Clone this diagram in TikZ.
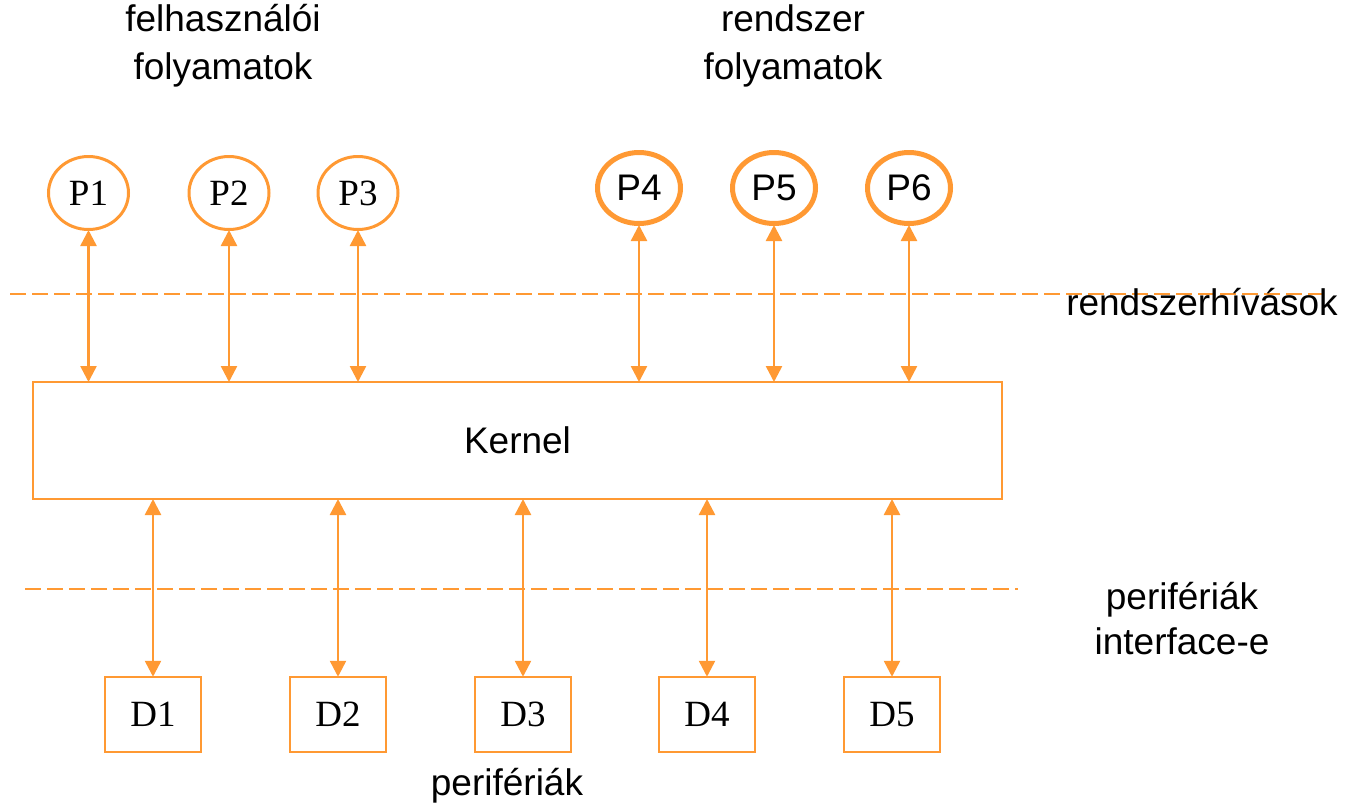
\documentclass[tikz,border=0pt]{standalone}
\usepackage{fontspec}
\setmainfont{Liberation Sans}
\newfontfamily\serifface{Liberation Serif}
\usetikzlibrary{arrows.meta,shapes.geometric}
\definecolor{accent}{RGB}{255,153,51}
\begin{document}
\begin{tikzpicture}[x=1pt,y=-1pt,
  every node/.style={font=\fontsize{37}{46}\selectfont, text=black},
  userproc/.style={ellipse, draw=accent, line width=3pt, minimum width=80pt, minimum height=73pt, inner sep=0pt, font=\serifface\fontsize{37}{46}\selectfont},
  sysproc/.style={ellipse, draw=accent, line width=5pt, minimum width=83pt, minimum height=71pt, inner sep=0pt},
  devbox/.style={rectangle, draw=accent, line width=2.5pt, minimum width=96pt, minimum height=75pt, inner sep=0pt, font=\serifface\fontsize{37}{46}\selectfont},
  kernelbox/.style={rectangle, draw=accent, line width=2pt, minimum width=969pt, minimum height=117pt, inner sep=0pt},
  boundary/.style={draw=accent, line width=2.5pt, dash pattern=on 16pt off 6pt},
  link/.style={draw=accent, line width=2.5pt, {Triangle[width=16pt,length=16pt]}-{Triangle[width=16pt,length=16pt]}, shorten <=-1pt, shorten >=-1pt},
  caption/.style={align=center, inner sep=0pt, font=\fontsize{37}{48}\selectfont}
]
\useasboundingbox (0,0) rectangle (1346,807);

% layer boundaries
\coordinate (callsL) at (10,294);
\coordinate (callsR) at (1325,294);
\coordinate (devL) at (25,589);
\coordinate (devR) at (1018,589);
\path[boundary] (callsL) -- (callsR);
\path[boundary] (devL) -- (devR);

% captions
\node[caption] (usercap) at (223,46) {felhasználói\\folyamatok};
\node[caption] (syscap) at (793,46) {rendszer\\folyamatok};
\node[caption] (callscap) at (1202,302) {rendszerhívások};
\node[caption, font=\fontsize{37}{45}\selectfont] (devcap) at (1182,619) {perifériák\\interface-e};
\node[caption] (periph) at (507,786) {perifériák};

% processes
\node[userproc] (P1) at (88.5,193) {P1};
\node[userproc] (P2) at (229,193) {P2};
\node[userproc] (P3) at (358,193) {P3};
\node[sysproc] (P4) at (639,188) {P4};
\node[sysproc] (P5) at (774,188) {P5};
\node[sysproc] (P6) at (909,188) {P6};

% kernel
\node[kernelbox] (kernel) at (517.5,440.5) {Kernel};

% devices
\node[devbox] (D1) at (153,714.5) {D1};
\node[devbox] (D2) at (338,714.5) {D2};
\node[devbox] (D3) at (523,714.5) {D3};
\node[devbox] (D4) at (707,714.5) {D4};
\node[devbox] (D5) at (892,714.5) {D5};

% system calls
\foreach \p in {P1,P2,P3,P4,P5,P6}
  \path[link] (\p.south) -- (\p.south |- kernel.north);

% device interfaces
\foreach \d in {D1,D2,D3,D4,D5}
  \path[link] (\d.north |- kernel.south) -- (\d.north);
\end{tikzpicture}
\end{document}
